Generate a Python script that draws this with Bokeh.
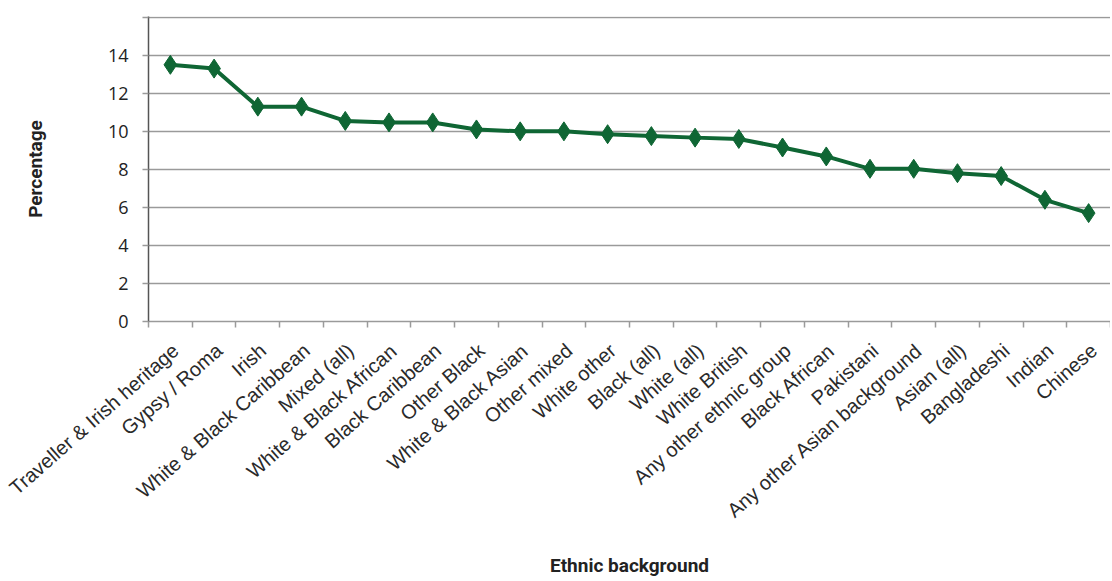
import math
from bokeh.plotting import figure
from bokeh.models import FixedTicker, ColumnDataSource, Range1d
from bokeh.embed import file_html
from bokeh.resources import INLINE

categories = [
    "Traveller & Irish heritage", "Gypsy / Roma", "Irish", "White & Black Caribbean",
    "Mixed (all)", "White & Black African", "Black Caribbean", "Other Black",
    "White & Black Asian", "Other mixed", "White other", "Black (all)", "White (all)",
    "White British", "Any other ethnic group", "Black African", "Pakistani",
    "Any other Asian background", "Asian (all)", "Bangladeshi", "Indian", "Chinese",
]
percentages = [13.5, 13.3, 11.3, 11.3, 10.55, 10.47, 10.47, 10.1, 10.0, 10.0, 9.85,
               9.75, 9.67, 9.6, 9.15, 8.68, 8.03, 8.03, 7.8, 7.65, 6.4, 5.7]
y_ticks = [0, 2, 4, 6, 8, 10, 12, 14, 16]
y_tick_labels = ["0", "2", "4", "6", "8", "10", "12", "14", ""]

n = len(categories)
xs = [i + 0.5 for i in range(n)]
label_pos = [i + 0.62 for i in range(n)]
src = ColumnDataSource(dict(x=xs, y=percentages, name=categories))

GREEN = "#0f6634"
GRID = "#9a9a9a"

p = figure(width=1110, height=579, output_backend="svg", toolbar_location=None,
           x_range=Range1d(0, n), y_range=Range1d(0, 16.04),
           min_border_left=148, min_border_right=0, min_border_top=16,
           min_border_bottom=258)
p.outline_line_color = None
p.background_fill_color = "white"

p.line("x", "y", source=src, line_color=GREEN, line_width=4)
p.scatter("x", "y", source=src, marker="diamond", size=19, fill_color=GREEN,
          line_color=GREEN)

# x axis
xa = p.xaxis[0]
xa.ticker = FixedTicker(ticks=label_pos, minor_ticks=list(range(n + 1)))
xa.major_label_overrides = {x: c for x, c in zip(label_pos, categories)}
xa.major_label_orientation = 0.72
xa.major_tick_out = 0
xa.major_tick_in = 0
xa.minor_tick_out = 6
xa.minor_tick_in = 0
xa.minor_tick_line_color = GRID
xa.minor_tick_line_width = 1.5
xa.axis_line_color = GRID
xa.axis_line_width = 1.5
xa.major_label_text_font = "Liberation Sans"
xa.major_label_text_font_size = "20px"
xa.major_label_text_color = "#2a2a2a"
xa.major_label_standoff = 20
xa.axis_label = "Ethnic background"
xa.axis_label_text_font = "Roboto"
xa.axis_label_text_font_style = "bold"
xa.axis_label_text_font_size = "19px"
xa.axis_label_text_color = "#222222"
xa.axis_label_standoff = 21

# y axis
ya = p.yaxis[0]
ya.ticker = FixedTicker(ticks=y_ticks)
ya.major_label_overrides = {t: l for t, l in zip(y_ticks, y_tick_labels)}
ya.major_tick_out = 6
ya.major_tick_in = 0
ya.major_tick_line_color = GRID
ya.major_tick_line_width = 1.5
ya.minor_tick_line_color = None
ya.axis_line_color = "#555555"
ya.axis_line_width = 1.5
ya.major_label_text_font = "Open Sans"
ya.major_label_text_font_size = "18px"
ya.major_label_text_color = "#222222"
ya.major_label_standoff = 14
ya.axis_label = "Percentage"
ya.axis_label_text_font = "Roboto"
ya.axis_label_text_font_style = "bold"
ya.axis_label_text_font_size = "19px"
ya.axis_label_text_color = "#222222"
ya.axis_label_standoff = 58

p.xgrid.grid_line_color = None
p.ygrid.ticker = FixedTicker(ticks=y_ticks)
p.ygrid.grid_line_color = GRID
p.ygrid.grid_line_width = 1.5

open("out.html", "w").write(file_html(p, INLINE))
